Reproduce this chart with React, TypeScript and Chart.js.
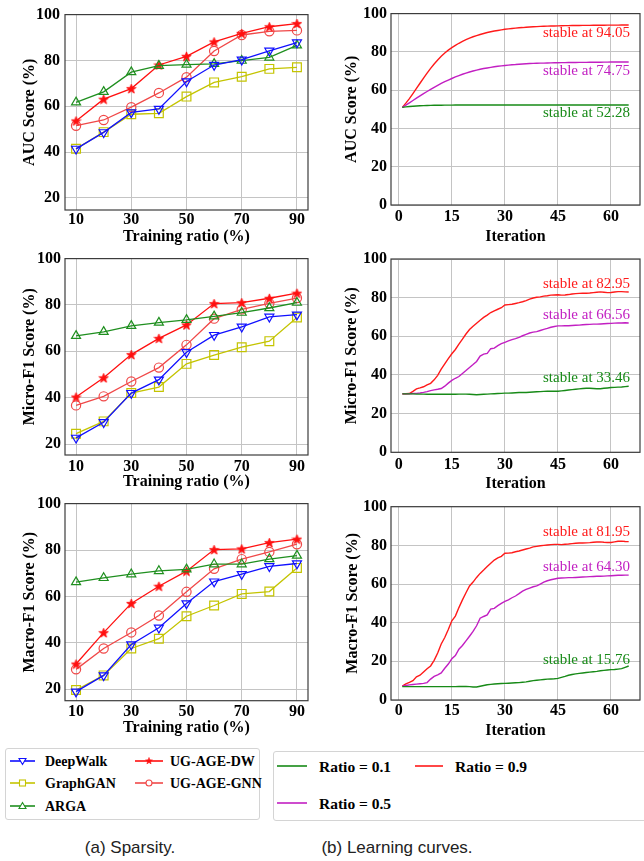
import React, { useEffect, useRef } from 'react';
import { Chart, registerables } from 'chart.js';

Chart.register(...registerables);

// ---------------- data ----------------
const ratios = [10, 20, 30, 40, 50, 60, 70, 80, 90];
const ratioTicks = [10, 30, 50, 70, 90];
const leftScoreTicks = [20, 40, 60, 80, 100];
const iterTicks = [0, 15, 30, 45, 60];
const rightScoreTicks = [0, 20, 40, 60, 80, 100];
const methodNames = ['DeepWalk', 'GraphGAN', 'ARGA', 'UG-AGE-DW', 'UG-AGE-GNN'];
const ratioNames = ['Ratio = 0.1', 'Ratio = 0.5', 'Ratio = 0.9'];

const aucDeepWalk = [41.4, 48.6, 57.3, 58.8, 70.8, 78.0, 80.3, 84.2, 87.8];
const aucGraphGAN = [41.4, 48.7, 56.5, 56.9, 64.2, 70.4, 72.9, 76.3, 77.0];
const aucARGA = [61.7, 66.3, 74.9, 77.7, 78.2, 78.5, 79.9, 81.3, 86.6];
const aucUGAGEDW = [53.6, 63.1, 67.7, 78.0, 81.8, 88.1, 91.8, 94.7, 96.1];
const aucUGAGEGNN = [51.5, 54.0, 59.6, 65.8, 72.7, 84.1, 91.1, 92.7, 93.1];

const micDeepWalk = [22.7, 29.4, 42.0, 47.8, 59.6, 67.0, 70.6, 74.9, 75.8];
const micGraphGAN = [24.5, 29.8, 42.0, 44.6, 54.6, 58.4, 61.8, 64.4, 74.6];
const micARGA = [66.7, 68.4, 71.0, 72.4, 73.6, 75.1, 76.7, 78.7, 81.0];
const micUGAGEDW = [40.3, 48.6, 58.6, 65.6, 71.4, 80.6, 81.0, 82.9, 85.1];
const micUGAGEGNN = [36.7, 40.6, 47.0, 53.0, 62.8, 74.1, 78.1, 80.7, 83.0];

const macDeepWalk = [19.0, 26.0, 39.3, 46.5, 57.0, 66.4, 69.6, 73.0, 74.2];
const macGraphGAN = [19.7, 26.0, 37.6, 41.8, 51.5, 56.1, 61.1, 62.1, 72.3];
const macARGA = [66.2, 68.0, 69.6, 71.0, 71.7, 73.9, 73.9, 76.1, 77.6];
const macUGAGEDW = [30.9, 44.4, 57.0, 64.4, 70.9, 80.2, 80.5, 83.2, 84.7];
const macUGAGEGNN = [28.6, 37.6, 44.5, 51.8, 62.0, 71.9, 76.1, 79.2, 82.5];

const iterations = Array.from({ length: 65 }, (_, i) => i + 1);

const aucRatio01 = [
  51.0, 51.25, 51.45, 51.6, 51.75, 51.85, 51.93, 52.0, 52.05, 52.09,
  52.12, 52.15, 52.17, 52.19, 52.2, 52.21, 52.22, 52.23, 52.23, 52.24,
  52.24, 52.25, 52.25, 52.25, 52.26, 52.26, 52.26, 52.26, 52.26, 52.27,
  52.27, 52.27, 52.27, 52.27, 52.27, 52.27, 52.27, 52.27, 52.27, 52.28,
  52.28, 52.28, 52.28, 52.28, 52.28, 52.28, 52.28, 52.28, 52.28, 52.28,
  52.28, 52.28, 52.28, 52.28, 52.28, 52.28, 52.28, 52.28, 52.28, 52.28,
  52.28, 52.28, 52.28, 52.28, 52.28,
];
const aucRatio05 = [
  51.0, 52.2, 53.4, 54.6, 55.8, 57.0, 58.2, 59.3, 60.4, 61.5,
  62.5, 63.5, 64.4, 65.3, 66.1, 66.9, 67.6, 68.3, 68.9, 69.5,
  70.0, 70.5, 70.9, 71.3, 71.6, 71.9, 72.2, 72.5, 72.7, 72.9,
  73.1, 73.3, 73.4, 73.55, 73.7, 73.8, 73.9, 74.0, 74.05, 74.1,
  74.15, 74.2, 74.25, 74.3, 74.33, 74.36, 74.39, 74.42, 74.45, 74.48,
  74.5, 74.52, 74.54, 74.56, 74.58, 74.6, 74.62, 74.64, 74.66, 74.68,
  74.7, 74.71, 74.72, 74.74, 74.75,
];
const aucRatio09 = [
  51.0, 53.2, 55.6, 58.2, 60.9, 63.6, 66.3, 68.9, 71.4, 73.7,
  75.8, 77.7, 79.4, 80.9, 82.2, 83.4, 84.5, 85.5, 86.4, 87.2,
  87.9, 88.5, 89.1, 89.6, 90.1, 90.5, 90.9, 91.2, 91.5, 91.8,
  92.0, 92.2, 92.4, 92.6, 92.7, 92.9, 93.0, 93.1, 93.2, 93.3,
  93.4, 93.45, 93.5, 93.55, 93.6, 93.65, 93.7, 93.72, 93.75, 93.78,
  93.8, 93.83, 93.85, 93.87, 93.89, 93.91, 93.93, 93.95, 93.96, 93.98,
  93.99, 94.0, 94.02, 94.03, 94.05,
];

const micRatio01 = [
  30.2, 30.2, 30.2, 30.2, 30.1, 30.1, 30.1, 30.0, 30.0, 30.0,
  30.0, 30.0, 30.0, 30.0, 30.0, 30.0, 30.1, 30.1, 30.1, 30.0,
  29.9, 29.8, 29.9, 30.0, 30.1, 30.2, 30.3, 30.4, 30.5, 30.6,
  30.6, 30.7, 30.8, 30.9, 31.0, 30.9, 31.1, 31.2, 31.3, 31.4,
  31.5, 31.6, 31.6, 31.6, 31.6, 31.8, 32.0, 32.2, 32.4, 32.6,
  32.8, 33.0, 33.1, 33.1, 33.0, 32.9, 32.9, 33.1, 33.3, 33.5,
  33.6, 33.7, 33.8, 34.0, 34.2,
];
const micRatio05 = [
  30.2, 30.2, 30.3, 30.4, 30.5, 30.7, 31.0, 31.4, 31.9, 32.3,
  32.6, 33.0, 34.2, 35.8, 37.2, 38.3, 39.2, 40.8, 42.3, 43.9,
  45.4, 47.0, 49.8, 50.8, 51.2, 53.6, 53.9, 55.2, 56.2, 56.9,
  57.6, 58.3, 58.8, 59.5, 60.3, 61.0, 61.7, 62.2, 62.4, 63.0,
  63.6, 64.1, 64.7, 65.1, 65.4, 65.4, 65.5, 65.5, 65.6, 65.7,
  65.8, 66.0, 66.1, 66.2, 66.3, 66.3, 66.4, 66.5, 66.6, 66.7,
  66.8, 66.9, 66.9, 67.0, 66.9,
];
const micRatio09 = [
  30.2, 30.3, 30.4, 31.5, 32.8, 33.3, 33.9, 34.9, 35.7, 37.5,
  39.8, 43.0, 45.8, 48.5, 51.0, 53.2, 56.0, 58.5, 61.2, 63.5,
  65.2, 66.8, 68.3, 69.8, 71.0, 72.3, 73.2, 74.0, 74.8, 76.2,
  76.4, 76.6, 77.0, 77.4, 77.9, 78.5, 79.2, 79.8, 80.2, 80.4,
  80.8, 81.0, 81.3, 81.4, 81.5, 81.3, 81.4, 81.6, 81.9, 82.1,
  82.2, 82.3, 82.3, 82.4, 82.6, 82.8, 83.0, 82.8, 82.6, 82.7,
  82.9, 83.1, 83.1, 83.0, 82.95,
];

const macRatio01 = [
  6.9, 6.9, 6.9, 6.9, 6.9, 6.9, 6.9, 6.9, 6.9, 6.9,
  6.9, 6.9, 6.9, 6.9, 6.9, 6.9, 7.0, 7.0, 7.0, 6.9,
  6.7, 6.7, 7.1, 7.5, 7.9, 8.1, 8.3, 8.4, 8.5, 8.6,
  8.7, 8.8, 8.9, 9.0, 9.2, 9.4, 9.7, 10.0, 10.2, 10.4,
  10.6, 10.8, 10.9, 11.0, 11.2, 11.7, 12.2, 12.8, 13.2, 13.5,
  13.8, 14.0, 14.2, 14.4, 14.6, 14.8, 15.1, 15.3, 15.5, 15.7,
  15.8, 16.0, 16.2, 16.9, 17.6,
];
const macRatio05 = [
  7.2, 7.5, 7.8, 8.0, 8.2, 8.4, 8.6, 9.0, 10.8, 12.2,
  13.0, 14.0, 16.4, 18.6, 21.3, 23.0, 26.3, 28.2, 30.6, 33.0,
  35.5, 38.4, 42.3, 43.2, 44.0, 47.0, 47.4, 48.8, 50.0, 51.0,
  51.8, 52.9, 53.8, 55.0, 56.3, 57.2, 57.9, 58.6, 59.0, 60.0,
  61.0, 61.7, 62.2, 62.6, 63.0, 63.1, 63.2, 63.3, 63.3, 63.4,
  63.5, 63.6, 63.7, 63.8, 63.9, 64.0, 64.0, 64.1, 64.2, 64.3,
  64.4, 64.5, 64.5, 64.6, 64.6,
];
const macRatio09 = [
  7.2, 8.3, 9.1, 10.0, 12.0, 12.8, 14.5, 16.2, 17.6, 20.5,
  24.3, 29.0, 32.3, 36.5, 41.0, 43.4, 47.8, 51.8, 55.5, 59.0,
  61.0, 63.4, 65.5, 67.2, 69.0, 70.8, 72.4, 73.5, 74.3, 75.9,
  76.0, 76.2, 76.7, 77.1, 77.6, 78.1, 78.6, 79.2, 79.5, 79.8,
  80.0, 80.2, 80.4, 80.5, 80.5, 80.4, 80.6, 80.7, 80.9, 81.1,
  81.2, 81.2, 81.3, 81.4, 81.6, 81.7, 81.8, 81.6, 81.5, 81.5,
  81.8, 82.1, 82.2, 82.0, 81.95,
];

// stable values (ratio 0.1, 0.5, 0.9)
const aucStable = [52.28, 74.75, 94.05];
const micStable = [33.46, 66.56, 82.95];
const macStable = [15.76, 64.3, 81.95];

// ---------------- styles ----------------
const SERIF = '"Liberation Serif", "Times New Roman", serif';
const methodColors = ['#1010ff', '#c4c400', '#1f8f1f', '#ff1010', '#f04848'];
const methodMarkers = ['triangleDown', 'rect', 'triangle', 'star', 'circle'];
const ratioColors = ['#178a17', '#c21fc2', '#ff1a1a'];
const GRID = '#c4c4c4';
const FRAME = '#3c3c3c';

function makeStar(color: string) {
  const c = document.createElement('canvas');
  const s = 11;
  c.width = s;
  c.height = s;
  const ctx = c.getContext('2d')!;
  ctx.fillStyle = color;
  ctx.strokeStyle = color;
  ctx.lineWidth = 0.8;
  ctx.beginPath();
  const cx = s / 2, cy = s / 2 + 0.5, R = 5, r = 2.1;
  for (let i = 0; i < 10; i++) {
    const a = -Math.PI / 2 + (i * Math.PI) / 5;
    const rad = i % 2 === 0 ? R : r;
    const px = cx + rad * Math.cos(a);
    const py = cy + rad * Math.sin(a);
    if (i === 0) ctx.moveTo(px, py);
    else ctx.lineTo(px, py);
  }
  ctx.closePath();
  ctx.fill();
  ctx.stroke();
  return c;
}

const framePlugin = {
  id: 'frame',
  afterDatasetsDraw(chart: any) {
    const { ctx, chartArea: a } = chart;
    ctx.save();
    ctx.strokeStyle = FRAME;
    ctx.lineWidth = 1.2;
    ctx.strokeRect(a.left, a.top, a.right - a.left, a.bottom - a.top);
    ctx.restore();
  },
};

const textPlugin = {
  id: 'stableText',
  afterDatasetsDraw(chart: any, _args: any, opts: any) {
    const notes = (opts && opts.notes) || [];
    const { ctx } = chart;
    const xs = chart.scales.x;
    const ys = chart.scales.y;
    ctx.save();
    ctx.font = `15px ${SERIF}`;
    ctx.textAlign = 'right';
    ctx.textBaseline = 'middle';
    for (const n of notes) {
      ctx.fillStyle = n.color;
      ctx.fillText(n.text, xs.getPixelForValue(n.x), ys.getPixelForValue(n.y));
    }
    ctx.restore();
  },
};

type Panel = {
  left: number; top: number; w: number; h: number;
  padTop: number; padRight: number; yWidth: number; xHeight: number;
  xMin: number; xMax: number; yMin: number; yMax: number;
  xTicks: number[]; yTicks: number[];
  xTitle: string; yTitle: string;
  xTickPad: number; yTickPad: number; xTitlePad: number; yTitlePad: number;
  kind: 'method' | 'ratio';
  series: number[][];
  xs: number[];
  stable?: number[];
  noteY?: number[];
};

const panels: Panel[] = [
  {
    left: 0, top: 0, w: 322, h: 250, padTop: 12, padRight: 14, yWidth: 65, xHeight: 40,
    xMin: 6, xMax: 94, yMin: 14.7, yMax: 100, xTicks: ratioTicks, yTicks: leftScoreTicks,
    xTitle: 'Training ratio (%)', yTitle: 'AUC Score (%)',
    xTickPad: 0.5, yTickPad: 5, xTitlePad: 3.4, yTitlePad: 20.4, kind: 'method', xs: ratios,
    series: [aucDeepWalk, aucGraphGAN, aucARGA, aucUGAGEDW, aucUGAGEGNN],
  },
  {
    left: 322, top: 0, w: 322, h: 250, padTop: 12, padRight: 4, yWidth: 69, xHeight: 45,
    xMin: -2.2, xMax: 68.2, yMin: 0, yMax: 100, xTicks: iterTicks, yTicks: rightScoreTicks,
    xTitle: 'Iteration', yTitle: 'AUC Score (%)',
    xTickPad: 2.5, yTickPad: 4, xTitlePad: 3.4, yTitlePad: 20.4, kind: 'ratio', xs: iterations,
    series: [aucRatio01, aucRatio05, aucRatio09], stable: aucStable, noteY: [47.9, 69.8, 89.9],
  },
  {
    left: 0, top: 245, w: 322, h: 250, padTop: 12, padRight: 14, yWidth: 65, xHeight: 40,
    xMin: 6, xMax: 94, yMin: 15.3, yMax: 100, xTicks: ratioTicks, yTicks: leftScoreTicks,
    xTitle: 'Training ratio (%)', yTitle: 'Micro-F1 Score (%)',
    xTickPad: 2.4, yTickPad: 4, xTitlePad: 3.4, yTitlePad: 20.4, kind: 'method', xs: ratios,
    series: [micDeepWalk, micGraphGAN, micARGA, micUGAGEDW, micUGAGEGNN],
  },
  {
    left: 322, top: 245, w: 322, h: 250, padTop: 14, padRight: 4, yWidth: 69, xHeight: 42.7,
    xMin: -2.2, xMax: 68.2, yMin: 0, yMax: 100, xTicks: iterTicks, yTicks: rightScoreTicks,
    xTitle: 'Iteration', yTitle: 'Micro-F1 Score (%)',
    xTickPad: 3.4, yTickPad: 4, xTitlePad: 1.4, yTitlePad: 20.4, kind: 'ratio', xs: iterations,
    series: [micRatio01, micRatio05, micRatio09], stable: micStable, noteY: [38.3, 71.0, 86.9],
  },
  {
    left: 0, top: 490, w: 322, h: 250, padTop: 12.7, padRight: 14, yWidth: 65, xHeight: 39.3,
    xMin: 6, xMax: 94, yMin: 15.1, yMax: 100, xTicks: ratioTicks, yTicks: leftScoreTicks,
    xTitle: 'Training ratio (%)', yTitle: 'Macro-F1 Score (%)',
    xTickPad: 1.4, yTickPad: 4, xTitlePad: 2.1, yTitlePad: 20.4, kind: 'method', xs: ratios,
    series: [macDeepWalk, macGraphGAN, macARGA, macUGAGEDW, macUGAGEGNN],
  },
  {
    left: 322, top: 490, w: 322, h: 250, padTop: 16.7, padRight: 4, yWidth: 69, xHeight: 40,
    xMin: -2.2, xMax: 68.2, yMin: 0, yMax: 100, xTicks: iterTicks, yTicks: rightScoreTicks,
    xTitle: 'Iteration', yTitle: 'Macro-F1 Score (%)',
    xTickPad: 1.4, yTickPad: 4, xTitlePad: 0, yTitlePad: 21.4, kind: 'ratio', xs: iterations,
    series: [macRatio01, macRatio05, macRatio09], stable: macStable, noteY: [20.7, 69.0, 86.9],
  },
];

function buildDatasets(p: Panel) {
  if (p.kind === 'method') {
    return p.series.map((ys, i) => {
      const marker = methodMarkers[i];
      const color = methodColors[i];
      let pointStyle: any = marker;
      let pointRotation = 0;
      let pointRadius = 4.6;
      if (marker === 'triangleDown') { pointStyle = 'triangle'; pointRotation = 180; pointRadius = 5.2; }
      if (marker === 'triangle') pointRadius = 5.2;
      if (marker === 'rect') pointRadius = 6.2;
      if (marker === 'star') pointStyle = makeStar(color);
      return {
        label: methodNames[i],
        data: p.xs.map((x, j) => ({ x, y: ys[j] })),
        borderColor: color,
        backgroundColor: 'transparent',
        borderWidth: 1.3,
        pointStyle,
        pointRotation,
        pointRadius,
        pointBorderWidth: 1.2,
        pointBorderColor: color,
        pointBackgroundColor: 'rgba(0,0,0,0)',
        tension: 0,
        clip: false as any,
      };
    });
  }
  return p.series.map((ys, i) => ({
    label: ratioNames[i],
    data: p.xs.map((x, j) => ({ x, y: ys[j] })),
    borderColor: ratioColors[i],
    backgroundColor: 'transparent',
    borderWidth: 1.4,
    pointRadius: 0,
    tension: 0,
  }));
}

function buildConfig(p: Panel): any {
  const tickFont = { family: SERIF, size: 16, weight: 'bold' as const, lineHeight: 1.2 };
  const titleFont = { family: SERIF, size: 16, weight: 'bold' as const, lineHeight: 1.2 };
  const notes = p.stable
    ? p.stable.map((v, i) => ({
        text: `stable at ${v.toFixed(2)}`,
        x: 65.4,
        y: p.noteY![i],
        color: ratioColors[i],
      }))
    : [];
  return {
    type: 'line',
    data: { datasets: buildDatasets(p) },
    options: {
      responsive: false,
      maintainAspectRatio: false,
      animation: false,
      devicePixelRatio: 1,
      layout: { padding: { top: p.padTop, right: p.padRight, left: 0, bottom: 0 } },
      plugins: {
        legend: { display: false },
        tooltip: { enabled: false },
        stableText: { notes },
      },
      scales: {
        x: {
          type: 'linear',
          min: p.xMin,
          max: p.xMax,
          afterBuildTicks: (s: any) => { s.ticks = p.xTicks.map((v) => ({ value: v })); },
          afterFit: (s: any) => { s.height = p.xHeight; },
          grid: { color: GRID, lineWidth: 1, drawTicks: false },
          border: { display: false },
          ticks: { font: tickFont, color: '#000', padding: p.xTickPad, maxRotation: 0, autoSkip: false },
          title: { display: true, text: p.xTitle, font: titleFont, color: '#000', padding: { top: 0, bottom: p.xTitlePad } },
        },
        y: {
          type: 'linear',
          min: p.yMin,
          max: p.yMax,
          afterBuildTicks: (s: any) => { s.ticks = p.yTicks.map((v) => ({ value: v })); },
          afterFit: (s: any) => { s.width = p.yWidth; },
          grid: { color: GRID, lineWidth: 1, drawTicks: false },
          border: { display: false },
          ticks: { font: tickFont, color: '#000', padding: p.yTickPad, autoSkip: false },
          title: { display: true, text: p.yTitle, font: titleFont, color: '#000', padding: { top: p.yTitlePad, bottom: 0 } },
        },
      },
    },
    plugins: [framePlugin, textPlugin],
  };
}

function ChartPanel({ p }: { p: Panel }) {
  const ref = useRef<HTMLCanvasElement>(null);
  useEffect(() => {
    const chart = new Chart(ref.current as HTMLCanvasElement, buildConfig(p));
    return () => chart.destroy();
  }, []);
  return (
    <canvas
      ref={ref}
      width={p.w}
      height={p.h}
      style={{ position: 'absolute', left: p.left, top: p.top, width: p.w, height: p.h }}
    />
  );
}

function MarkerIcon({ kind, color, len }: { kind: string; color: string; len: number }) {
  const cy = 6;
  const cx = len / 2;
  let marker: any = null;
  if (kind === 'triangleDown')
    marker = <polygon points={`${cx - 3.5},${cy - 2.5} ${cx + 3.5},${cy - 2.5} ${cx},${cy + 3.5}`} fill="white" stroke={color} strokeWidth={1.1} />;
  else if (kind === 'triangle')
    marker = <polygon points={`${cx - 3.5},${cy + 2.5} ${cx + 3.5},${cy + 2.5} ${cx},${cy - 3.5}`} fill="white" stroke={color} strokeWidth={1.1} />;
  else if (kind === 'rect')
    marker = <rect x={cx - 3} y={cy - 3} width={6} height={6} fill="white" stroke={color} strokeWidth={1.1} />;
  else if (kind === 'circle')
    marker = <circle cx={cx} cy={cy} r={3} fill="white" stroke={color} strokeWidth={1.1} />;
  else if (kind === 'star') {
    const pts: string[] = [];
    for (let i = 0; i < 10; i++) {
      const a = -Math.PI / 2 + (i * Math.PI) / 5;
      const r = i % 2 === 0 ? 3.6 : 1.5;
      pts.push(`${cx + r * Math.cos(a)},${cy + r * Math.sin(a)}`);
    }
    marker = <polygon points={pts.join(' ')} fill={color} stroke={color} strokeWidth={0.5} />;
  }
  return (
    <svg width={len} height={12} style={{ position: 'absolute', overflow: 'visible' }}>
      <line x1={0} y1={cy} x2={len} y2={cy} stroke={color} strokeWidth={1.6} />
      {marker}
    </svg>
  );
}

const leftLegendPos = [
  { lx: 5, len: 25, tx: 40, y: 12.7 },
  { lx: 5, len: 25, tx: 40, y: 35.3 },
  { lx: 5, len: 25, tx: 40, y: 58 },
  { lx: 130, len: 28, tx: 165, y: 12.7 },
  { lx: 130, len: 28, tx: 165, y: 35.3 },
];
const rightLegendPos = [
  { lx: 4, len: 30, tx: 46, y: 14.7 },
  { lx: 4, len: 30, tx: 46, y: 52.3 },
  { lx: 142, len: 28, tx: 182, y: 14.7 },
];

export default function App() {
  return (
    <div style={{ position: 'absolute', left: 0, top: 0, width: 644, height: 861, background: '#fff', overflow: 'hidden' }}>
      {panels.map((p, i) => (
        <ChartPanel key={i} p={p} />
      ))}
      <div
        style={{
          position: 'absolute', left: 5, top: 748, width: 255, height: 72,
          border: '1px solid #d4d4d4', borderRadius: 3, boxSizing: 'border-box',
        }}
      >
        {methodNames.map((name, i) => {
          const pos = leftLegendPos[i];
          return (
            <React.Fragment key={name}>
              <div style={{ position: 'absolute', left: pos.lx - 1, top: pos.y - 7 }}>
                <MarkerIcon kind={methodMarkers[i]} color={methodColors[i]} len={pos.len} />
              </div>
              <div
                style={{
                  position: 'absolute', left: pos.tx - 1, top: pos.y - 10, height: 20, lineHeight: '20px',
                  fontFamily: SERIF, fontWeight: 'bold', fontSize: 14, color: '#000', whiteSpace: 'nowrap',
                }}
              >
                {name}
              </div>
            </React.Fragment>
          );
        })}
      </div>
      <div
        style={{
          position: 'absolute', left: 273, top: 751, width: 400, height: 70,
          border: '1px solid #d4d4d4', borderRadius: 3, boxSizing: 'border-box',
        }}
      >
        {ratioNames.map((name, i) => {
          const pos = rightLegendPos[i];
          return (
            <React.Fragment key={name}>
              <div style={{ position: 'absolute', left: pos.lx - 1, top: pos.y - 7 }}>
                <MarkerIcon kind="none" color={ratioColors[i]} len={pos.len} />
              </div>
              <div
                style={{
                  position: 'absolute', left: pos.tx - 1, top: pos.y - 10, height: 20, lineHeight: '20px',
                  fontFamily: SERIF, fontWeight: 'bold', fontSize: 15.5, color: '#000', whiteSpace: 'nowrap',
                }}
              >
                {name}
              </div>
            </React.Fragment>
          );
        })}
      </div>
      <div
        style={{
          position: 'absolute', left: 30, top: 837, width: 200, textAlign: 'center', lineHeight: '22px',
          fontFamily: '"Liberation Sans", Arial, sans-serif', fontSize: 17, color: '#222',
        }}
      >
        (a) Sparsity.
      </div>
      <div
        style={{
          position: 'absolute', left: 272, top: 837, width: 250, textAlign: 'center', lineHeight: '22px',
          fontFamily: '"Liberation Sans", Arial, sans-serif', fontSize: 17, color: '#222',
        }}
      >
        (b) Learning curves.
      </div>
    </div>
  );
}
